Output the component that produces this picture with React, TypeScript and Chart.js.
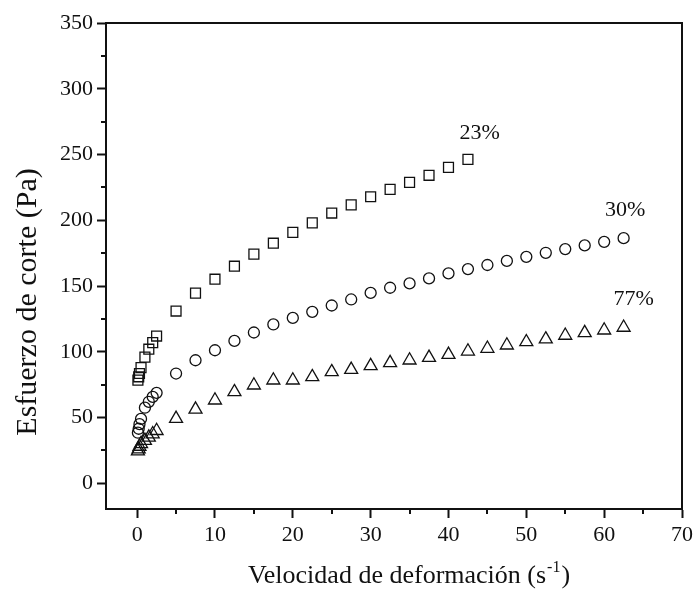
import React, { useEffect, useRef } from "react";
import { Chart, registerables } from "chart.js";

Chart.register(...registerables);

// ---- data ----
const rate23 = [0.1, 0.2, 0.3, 0.5, 1, 1.5, 2, 2.5, 5, 7.5, 10, 12.5, 15, 17.5, 20, 22.5, 25, 27.5, 30, 32.5, 35, 37.5, 40, 42.5];
const stress23 = [78.5, 81, 83.5, 88, 96, 102, 107, 112, 131, 144.6, 155.2, 165.1, 174.3, 182.6, 190.8, 198, 205.5, 211.7, 217.9, 223.5, 228.8, 234.2, 240.2, 246.3];

const rate30 = [0.1, 0.2, 0.3, 0.5, 1, 1.5, 2, 2.5, 5, 7.5, 10, 12.5, 15, 17.5, 20, 22.5, 25, 27.5, 30, 32.5, 35, 37.5, 40, 42.5, 45, 47.5, 50, 52.5, 55, 57.5, 60, 62.5];
const stress30 = [38.5, 41.5, 45, 49, 57.5, 62, 65.7, 68.8, 83.5, 93.6, 101.2, 108.3, 114.7, 120.8, 125.8, 130.4, 135.2, 139.8, 144.8, 148.7, 152, 155.8, 159.6, 162.9, 166, 169.1, 172.2, 175.3, 178.1, 180.9, 183.6, 186.4];

const rate77 = [0.1, 0.2, 0.3, 0.5, 1, 1.5, 2, 2.5, 5, 7.5, 10, 12.5, 15, 17.5, 20, 22.5, 25, 27.5, 30, 32.5, 35, 37.5, 40, 42.5, 45, 47.5, 50, 52.5, 55, 57.5, 60, 62.5];
const stress77 = [24.5, 26, 28, 30, 32.5, 35, 37.5, 40, 49.2, 56.3, 63.2, 69.5, 74.6, 78.4, 78.4, 80.9, 84.7, 86.5, 89.3, 91.6, 93.6, 95.6, 97.9, 100.4, 102.5, 105, 107.5, 109.6, 112.4, 114.4, 116.4, 118.5];

const xTickValues = [0, 10, 20, 30, 40, 50, 60, 70];
const xMinorValues = [5, 15, 25, 35, 45, 55, 65];
const yTickValues = [0, 50, 100, 150, 200, 250, 300, 350];
const yMinorValues = [25, 75, 125, 175, 225, 275, 325];

const seriesLabels = ["23%", "30%", "77%"];
const seriesLabelX = [44, 62.7, 63.8];
const seriesLabelY = [266, 208, 140];

const xTitleMain = "Velocidad de deformación (s";
const xTitleSup = "-1";
const xTitleEnd = ")";
const yTitle = "Esfuerzo de corte (Pa)";

const FONT = "'Liberation Serif', 'Times New Roman', serif";
const INK = "#111";

const toPoints = (xs: number[], ys: number[]) => xs.map((x, i) => ({ x, y: ys[i] }));

const decorPlugin = {
  id: "decor",
  afterDraw(chart: any) {
    const { ctx, chartArea, scales } = chart;
    const xs = scales.x;
    const ys = scales.y;
    ctx.save();
    // frame top & right
    ctx.strokeStyle = INK;
    ctx.lineWidth = 2;
    ctx.beginPath();
    ctx.moveTo(chartArea.left - 1, chartArea.top);
    ctx.lineTo(chartArea.right, chartArea.top);
    ctx.lineTo(chartArea.right, chartArea.bottom + 1);
    ctx.stroke();
    // minor ticks
    ctx.beginPath();
    xMinorValues.forEach((v) => {
      const px = Math.round(xs.getPixelForValue(v));
      ctx.moveTo(px, chartArea.bottom);
      ctx.lineTo(px, chartArea.bottom + 5);
    });
    yMinorValues.forEach((v) => {
      const py = Math.round(ys.getPixelForValue(v));
      ctx.moveTo(chartArea.left, py);
      ctx.lineTo(chartArea.left - 5, py);
    });
    ctx.stroke();
    // series labels
    ctx.fillStyle = INK;
    ctx.font = `22px ${FONT}`;
    ctx.textAlign = "center";
    ctx.textBaseline = "middle";
    seriesLabels.forEach((t, i) => {
      ctx.fillText(t, xs.getPixelForValue(seriesLabelX[i]), ys.getPixelForValue(seriesLabelY[i]));
    });
    // y title
    ctx.save();
    ctx.translate(36, 302);
    ctx.rotate(-Math.PI / 2);
    ctx.font = `30px ${FONT}`;
    ctx.textAlign = "center";
    ctx.textBaseline = "alphabetic";
    ctx.fillText(yTitle, 0, 0);
    ctx.restore();
    // x title with superscript
    const mainFont = `26px ${FONT}`;
    const supFont = `16px ${FONT}`;
    ctx.font = mainFont;
    const w1 = ctx.measureText(xTitleMain).width;
    const w3 = ctx.measureText(xTitleEnd).width;
    ctx.font = supFont;
    const w2 = ctx.measureText(xTitleSup).width;
    const total = w1 + w2 + w3 + 2;
    const cx = 409;
    const baseY = 583;
    let x0 = cx - total / 2;
    ctx.textAlign = "left";
    ctx.textBaseline = "alphabetic";
    ctx.font = mainFont;
    ctx.fillText(xTitleMain, x0, baseY);
    x0 += w1 + 1;
    ctx.font = supFont;
    ctx.fillText(xTitleSup, x0, baseY - 11);
    x0 += w2 + 1;
    ctx.font = mainFont;
    ctx.fillText(xTitleEnd, x0, baseY);
    ctx.restore();
  },
};

export default function App() {
  const ref = useRef<HTMLCanvasElement | null>(null);
  useEffect(() => {
    document.body.style.margin = "0";
    const canvas = ref.current;
    if (!canvas) return;
    const common = {
      showLine: false,
      backgroundColor: "rgba(0,0,0,0)",
      borderColor: INK,
      pointBorderWidth: 1.3,
      pointBackgroundColor: "rgba(0,0,0,0)",
      pointBorderColor: INK,
    };
    const chart = new Chart(canvas, {
      type: "scatter",
      data: {
        datasets: [
          { ...common, label: "23%", data: toPoints(rate23, stress23), pointStyle: "rect", pointRadius: 7 },
          { ...common, label: "30%", data: toPoints(rate30, stress30), pointStyle: "circle", pointRadius: 5.5 },
          { ...common, label: "77%", data: toPoints(rate77, stress77), pointStyle: "triangle", pointRadius: 7.5 },
        ],
      },
      options: {
        responsive: false,
        animation: false,
        devicePixelRatio: 1,
        layout: { padding: { top: 23, right: 12, left: 0, bottom: 0 } },
        plugins: { legend: { display: false }, tooltip: { enabled: false } },
        scales: {
          x: {
            type: "linear",
            min: -4,
            max: 70,
            afterBuildTicks: (s: any) => {
              s.ticks = xTickValues.map((v) => ({ value: v }));
            },
            afterFit: (s: any) => {
              s.height = 82;
              s.paddingLeft = 0;
              s.paddingRight = 0;
            },
            grid: { display: true, drawOnChartArea: false, drawTicks: true, tickLength: 9, tickWidth: 2, tickColor: INK },
            border: { display: true, width: 2, color: INK },
            ticks: { font: { family: FONT, size: 22 }, color: INK, padding: 4, maxRotation: 0 },
          },
          y: {
            type: "linear",
            min: -19.5,
            max: 350,
            afterBuildTicks: (s: any) => {
              s.ticks = yTickValues.map((v) => ({ value: v }));
            },
            afterFit: (s: any) => {
              s.width = 106;
              s.paddingTop = 0;
              s.paddingBottom = 0;
            },
            grid: { display: true, drawOnChartArea: false, drawTicks: true, tickLength: 9, tickWidth: 2, tickColor: INK },
            border: { display: true, width: 2, color: INK },
            ticks: { font: { family: FONT, size: 22 }, color: INK, padding: 4 },
          },
        },
      },
      plugins: [decorPlugin],
    } as any);
    return () => chart.destroy();
  }, []);
  return <canvas ref={ref} width={694} height={591} style={{ display: "block" }} />;
}
